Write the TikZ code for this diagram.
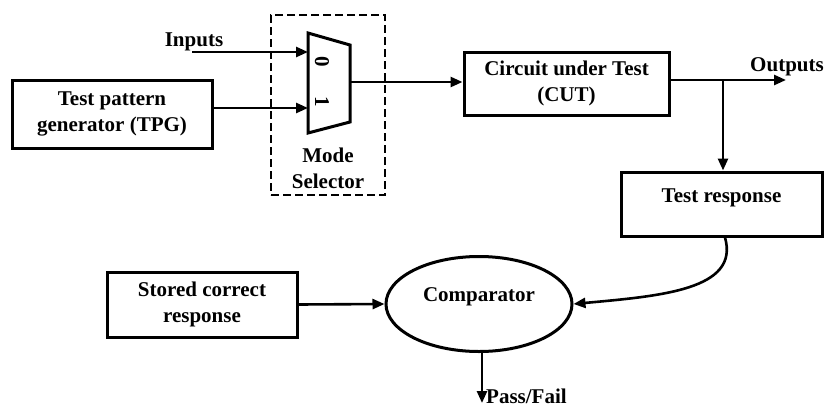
\documentclass[tikz,border=0pt]{standalone}
\usepackage{fontspec}
\setmainfont{Liberation Serif}
\usetikzlibrary{arrows.meta,shapes.geometric}
\tikzset{
  lbl/.style={font=\fontsize{21}{26}\selectfont\bfseries, inner sep=0pt},
  blk/.style={draw, line width=3pt, align=center, font=\fontsize{21}{26}\selectfont\bfseries, inner sep=0pt},
  arr/.style={line width=2.6pt, -{Triangle[length=12pt,width=10pt]}},
  ln/.style={line width=3pt}
}
\begin{document}
\begin{tikzpicture}[x=1pt,y=-1pt]
\useasboundingbox (0,0) rectangle (824,410);
% blocks
\node[blk, minimum width=200pt, minimum height=68pt] (tpg) at (112,114) {Test pattern\\generator (TPG)};
\node[blk, minimum width=205pt, minimum height=63pt] (cut) at (566.5,83.5) {Circuit under Test\\(CUT)};
\node[blk, minimum width=201pt, minimum height=64pt] (tr) at (721.5,204) {};
\node[lbl] (trl) at (721.5,198) {Test response};
\node[blk, minimum width=190pt, minimum height=65pt] (scr) at (202,304.5) {Stored correct\\response};
\node[blk, ellipse, minimum width=186pt, minimum height=95pt] (cmp) at (479,304) {};
\node[lbl] (cmpl) at (479,297) {Comparator};
% dashed mode selector box
\node[draw, dash pattern=on 8pt off 4pt, line width=2.6pt, minimum width=114pt, minimum height=180pt, inner sep=0pt] (ms) at (328,105) {};
\node[lbl] (msl1) at (328,155) {Mode};
\node[lbl] (msl2) at (328,181) {Selector};
% mux
\coordinate (m0) at (308,52);
\coordinate (m1) at (308,108);
\coordinate (mo) at (350,82);
\draw[ln, line join=miter] (308,33) -- (350,45) -- (350,122) -- (308,133) -- cycle;
\node[lbl, rotate=-90] (z0) at (322,62) {0};
\node[lbl, rotate=-90] (z1) at (322,102) {1};
% inputs
\node[lbl] (inl) at (194,42) {Inputs};
\coordinate (inS) at (192,52);
\draw[arr] (inS) -- (m0);
\draw[arr] (tpg.east |- m1) -- (m1);
\draw[arr] (mo) -- (mo -| cut.west);
% outputs
\coordinate (outE) at (786,80);
\coordinate (br) at (723,80);
\draw[arr] (cut.east |- outE) -- (outE);
\node[lbl] (outl) at (787,67) {Outputs};
\draw[arr] (br) -- (br |- tr.north);
% curve to comparator
\draw[arr] (tr.south -| 725,0) .. controls (740,290) and (660,296) .. (cmp.east);
\draw[arr] (scr.east) -- (cmp.west);
% pass/fail
\coordinate (pf) at (482,403);
\draw[arr] (cmp.south -| pf) -- (pf);
\node[lbl, anchor=west] (pfl) at (486,396) {Pass/Fail};
\end{tikzpicture}
\end{document}
